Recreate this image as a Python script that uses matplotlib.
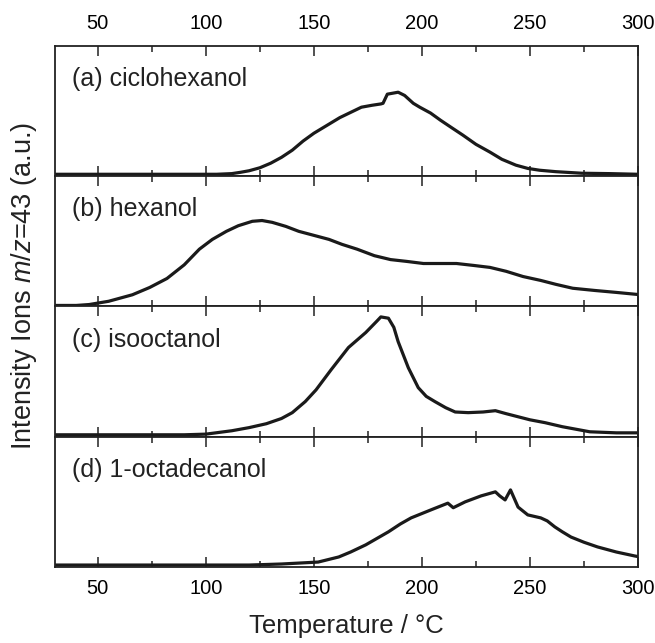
import matplotlib
matplotlib.use("Agg")
import matplotlib.pyplot as plt
import numpy as np

plt.rcParams['font.family'] = ['Liberation Sans', 'DejaVu Sans']
plt.rcParams['mathtext.fontset'] = 'custom'
plt.rcParams['mathtext.rm'] = 'Liberation Sans'
plt.rcParams['mathtext.it'] = 'Liberation Sans:italic'

# datos: temperatura (C) e intensidad (u.a.)
T_a = [30, 60, 90, 105, 112, 116, 120, 125, 130, 135, 140, 145, 150, 157, 162, 167, 172,
       177, 181, 182, 184, 189, 192, 196, 199, 204, 208.6, 214, 219, 225, 231.5, 237,
       243.5, 249, 254.5, 262, 274, 287, 300]
I_a = [0.015, 0.015, 0.015, 0.015, 0.02, 0.03, 0.042, 0.065, 0.1, 0.145, 0.2, 0.27, 0.33,
       0.40, 0.45, 0.49, 0.53, 0.545, 0.555, 0.56, 0.63, 0.645, 0.62, 0.56, 0.53, 0.485,
       0.43, 0.37, 0.315, 0.245, 0.185, 0.13, 0.085, 0.06, 0.046, 0.035, 0.023, 0.02, 0.015]

T_b = [30, 40, 46, 55, 66, 74, 82, 90, 97, 103, 109.5, 115, 121.5, 126, 130.7, 137, 143,
       150, 157, 163, 170, 178, 185.5, 193, 200.7, 208, 216, 224, 231.5, 239, 246.8, 255,
       262, 269.8, 280, 290, 300]
I_b = [0.008, 0.008, 0.015, 0.04, 0.09, 0.146, 0.215, 0.32, 0.44, 0.515, 0.577, 0.62, 0.654,
       0.66, 0.646, 0.615, 0.577, 0.546, 0.515, 0.477, 0.44, 0.39, 0.36, 0.346, 0.33, 0.33,
       0.33, 0.315, 0.30, 0.27, 0.23, 0.2, 0.17, 0.14, 0.123, 0.108, 0.092]

T_c = [30, 60, 90, 100, 112, 120, 128, 135, 140, 146, 151, 158, 166, 174, 179, 181, 184.5,
       187, 189, 193.7, 198.3, 202, 206, 211, 215.4, 221.4, 228.3, 234, 239, 250, 257, 265,
       277.7, 290, 300]
I_c = [0.015, 0.015, 0.015, 0.02, 0.046, 0.07, 0.1, 0.14, 0.185, 0.27, 0.36, 0.515, 0.685,
       0.8, 0.885, 0.92, 0.91, 0.84, 0.73, 0.53, 0.377, 0.31, 0.27, 0.223, 0.19, 0.185,
       0.19, 0.2, 0.177, 0.13, 0.108, 0.077, 0.038, 0.03, 0.03]

T_d = [30, 70, 100, 120, 135, 143, 152, 161.5, 167, 174, 184.5, 190, 195, 204.4, 212, 214.5,
       220, 227.4, 234, 236, 238.5, 241, 244.5, 249, 255, 258, 261.5, 265, 269, 275, 281.3,
       290, 298.4, 300]
I_d = [0.015, 0.015, 0.015, 0.015, 0.023, 0.03, 0.038, 0.077, 0.115, 0.17, 0.27, 0.33, 0.377,
       0.44, 0.49, 0.455, 0.5, 0.546, 0.577, 0.546, 0.515, 0.592, 0.46, 0.4, 0.377, 0.354,
       0.308, 0.27, 0.23, 0.19, 0.154, 0.115, 0.085, 0.08]

etiquetas = ['(a) ciclohexanol', '(b) hexanol', '(c) isooctanol', '(d) 1-octadecanol']
datos = [(T_a, I_a), (T_b, I_b), (T_c, I_c), (T_d, I_d)]

fig, axs = plt.subplots(4, 1, sharex=True, figsize=(6.55, 6.43), dpi=100)
fig.subplots_adjust(left=0.0834, right=0.974, top=0.9285, bottom=0.1182, hspace=0)

for i, ax in enumerate(axs):
    T, I = datos[i]
    ax.plot(T, I, color='#1a1a1a', lw=2.3)
    ax.set_xlim(30, 300)
    ax.set_ylim(0, 1)
    ax.set_yticks([])
    ax.set_xticks(np.arange(50, 301, 50))
    ax.set_xticks(np.arange(75, 300, 50), minor=True)
    ax.tick_params(axis='x', which='both', direction='in', top=True, bottom=True,
                   labeltop=(i == 0), labelbottom=(i == 3), labelsize=14.5, pad=9,
                   width=1.1, color='#222222')
    ax.tick_params(axis='x', which='major', length=7)
    ax.tick_params(axis='x', which='minor', length=4)
    for s in ax.spines.values():
        s.set_linewidth(1.3)
        s.set_color('#222222')
    ax.text(0.03, 0.745, etiquetas[i], transform=ax.transAxes, fontsize=18,
            va='center', ha='left', color='#222222')

axs[3].set_xlabel('Temperature / °C', fontsize=18.5, labelpad=11, color='#222222')
fig.text(0.037, 0.556, 'Intensity Ions $m/z$=43 (a.u.)', rotation=90, fontsize=19.5,
         va='center', ha='center', color='#222222')

plt.savefig('out.png', dpi=100)
